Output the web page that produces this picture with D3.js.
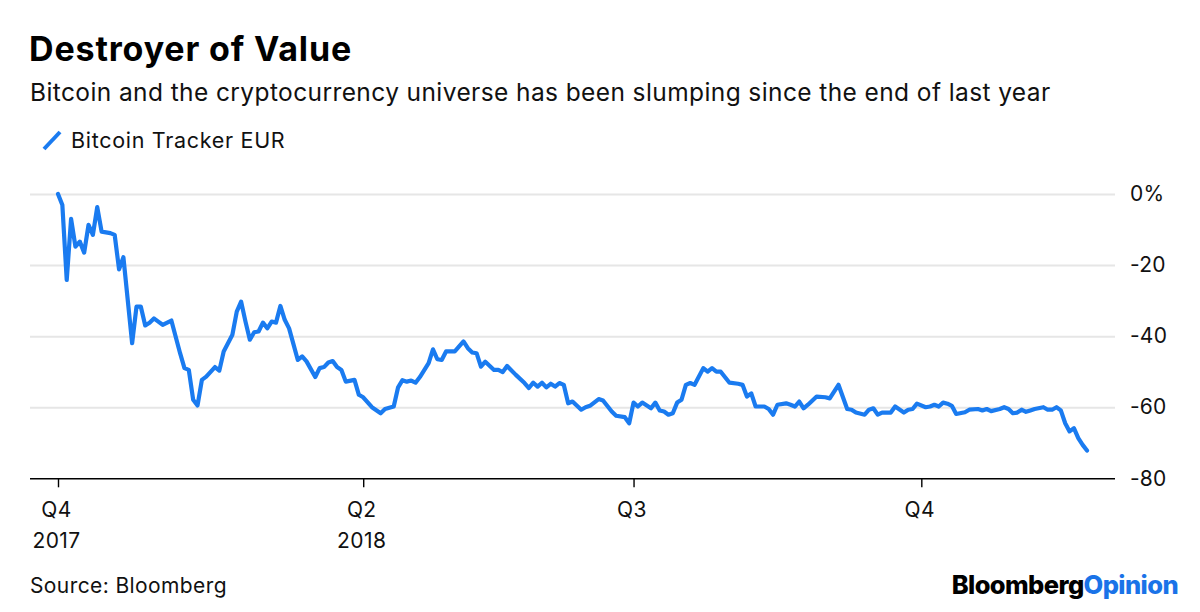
<!DOCTYPE html>
<html>
<head>
<meta charset="utf-8">
<script src="https://cdn.jsdelivr.net/npm/d3@7"></script>
<style>
  html, body { margin: 0; padding: 0; background: #fff; }
  svg { display: block; font-family: Inter, "Liberation Sans", Arial, sans-serif; }
</style>
</head>
<body>
<svg id="chart" width="1200" height="612"></svg>
<script>
// ---- data (trading-day index since the Dec-2017 start, % change) ----
const days = [0,1,2,3,4,5,6,7,8,9,10,12,13,14,15,17,18,19,20,21,22,23,24,26,28,29,30,31,32,33,34,36,37,38,40,41,42,43,44,45,46,47,48,49,50,51,52,53,55,56,57,59,60,61,62,63,64,65,66,68,69,70,72,74,75,77,78,79,80,81,82,83,85,86,87,88,89,90,91,93,94,95,96,97,98,100,101,102,103,105,107,108,109,110,111,112,113,114,115,116,117,118,120,121,122,124,125,127,128,130,131,132,133,134,136,137,138,139,140,141,142,143,144,145,146,148,149,150,151,152,154,156,157,158,159,160,162,163,164,165,167,168,169,170,171,172,174,176,177,178,179,181,182,183,185,186,187,188,189,191,192,194,195,196,197,199,200,201,202,203,204,205,206,208,209,211,212,213,214,216,217,218,219,220,221,222,223,224,226,227,228,229,230,231,232,233,234,235,236];
const values = [0,-3.1,-24.2,-7,-14.8,-13.4,-16.5,-8.7,-11.5,-3.7,-10.6,-11,-11.5,-21.2,-17.8,-42,-31.7,-31.7,-37,-36.2,-35,-35.9,-36.8,-35.6,-44.8,-49,-49.5,-57.9,-59.5,-52.3,-51.4,-48.7,-49.7,-44.3,-39.6,-33.1,-30.3,-35.9,-41,-38.9,-38.7,-36.2,-37.8,-35.9,-36.2,-31.5,-35.4,-37.8,-46.7,-45.7,-47.1,-51.5,-49,-48.7,-47.4,-47,-48.7,-49.5,-52.8,-52.3,-56.5,-57.2,-60,-61.7,-60.5,-59.8,-54.4,-52.4,-52.8,-52.5,-53.1,-51.5,-47.6,-43.7,-46.5,-46.7,-44.3,-44.3,-44.3,-41.5,-43.4,-44.6,-44.8,-48.6,-47.2,-49.5,-49.5,-50.1,-48.4,-50.9,-53.2,-54.6,-53.1,-54.2,-53.1,-54.4,-53.4,-54.2,-53.2,-53.7,-58.9,-58.4,-60.7,-60,-59.6,-57.7,-58.1,-61.2,-62.4,-62.8,-64.5,-58.7,-59.8,-58.7,-60.3,-58.7,-60.9,-61.2,-62.1,-61.7,-58.7,-57.9,-53.7,-53.2,-53.7,-49,-50,-49,-50,-50,-53.1,-53.4,-53.7,-57,-56.1,-59.8,-59.8,-60.5,-62.1,-59.3,-58.9,-59.3,-59.8,-58.4,-60.3,-59.3,-57,-57.2,-57.5,-55.6,-53.7,-60.5,-60.7,-61.5,-62.1,-60.7,-60.3,-62.1,-61.5,-61.5,-59.8,-61.5,-60.7,-60.5,-59,-60,-59.8,-59.3,-59.8,-58.7,-59,-59.6,-61.9,-61.4,-60.7,-60.5,-60.9,-60.5,-61.1,-60.5,-60,-60.5,-61.7,-61.5,-60.7,-61.3,-60.9,-60.5,-60,-60.7,-60.7,-60,-60.9,-64.5,-66.8,-65.9,-68.7,-70.6,-72.2];
const xTickDays = [0, 70, 132, 198];
const xTickQuarters = ["Q4", "Q2", "Q3", "Q4"];
const xTickYears = ["2017", "2018", "", ""];
const yTicks = [0, -20, -40, -60, -80];
const seriesName = "Bitcoin Tracker EUR";

// ---- layout ----
const BLUE = "#1a7bf0";
const FONT = "Inter, 'Liberation Sans', Arial, sans-serif";
const svg = d3.select("#chart");
const plotLeft = 30, plotRight = 1115;
const x = d3.scaleLinear().domain([0, 236]).range([58, 1087]);
const y = d3.scaleLinear().domain([-80, 0]).range([478.3, 194]);

// titles
svg.append("text").attr("x", 29).attr("y", 61)
  .attr("font-size", 34).attr("font-weight", "bold").attr("fill", "#000")
  .attr("letter-spacing", 0.85)
  .text("Destroyer of Value");
svg.append("text").attr("x", 30).attr("y", 101)
  .attr("font-size", 24.5).attr("fill", "#111").attr("letter-spacing", 0.4)
  .text("Bitcoin and the cryptocurrency universe has been slumping since the end of last year");

// legend
svg.append("line").attr("x1", 44).attr("y1", 149).attr("x2", 60).attr("y2", 132)
  .attr("stroke", BLUE).attr("stroke-width", 4).attr("stroke-linecap", "butt");
svg.append("text").attr("x", 71).attr("y", 148)
  .attr("font-size", 21.5).attr("fill", "#111").attr("letter-spacing", 0.7).text(seriesName);

// y axis with gridlines
const yAxis = d3.axisRight(y).tickValues(yTicks)
  .tickSize(-(plotRight - plotLeft)).tickPadding(15)
  .tickFormat(d => d === 0 ? "0%" : String(d));
const gy = svg.append("g").attr("transform", `translate(${plotRight},0)`).call(yAxis);
gy.select(".domain").remove();
gy.selectAll(".tick line").attr("stroke", "#e6e6e6").attr("stroke-width", 2);
gy.selectAll(".tick text").attr("font-size", 21).attr("fill", "#111")
  .attr("letter-spacing", 0.2).attr("font-family", FONT);
gy.selectAll(".tick").filter(d => d === -80).select("line")
  .attr("stroke", "#000").attr("stroke-width", 1.6);

// x axis
const xAxis = d3.axisBottom(x).tickValues(xTickDays).tickSize(9).tickFormat("");
const gx = svg.append("g").attr("transform", `translate(0,${y(-80)})`).call(xAxis);
gx.select(".domain").remove();
gx.selectAll(".tick line").attr("stroke", "#000").attr("stroke-width", 1.4);
const lbl = gx.selectAll(".tick").append("text")
  .attr("text-anchor", "middle").attr("fill", "#111").attr("font-size", 21)
  .attr("letter-spacing", 0.4).attr("font-family", FONT);
lbl.append("tspan").attr("x", -2).attr("y", 39).text((d, i) => xTickQuarters[i]);
lbl.append("tspan").attr("x", -2).attr("y", 70).text((d, i) => xTickYears[i]);

// line
const line = d3.line().x((d, i) => x(days[i])).y(d => y(d)).curve(d3.curveLinear);
svg.append("path").datum(values)
  .attr("d", line).attr("fill", "none").attr("stroke", BLUE)
  .attr("stroke-width", 4.2).attr("stroke-linejoin", "round").attr("stroke-linecap", "round");

// footer
svg.append("text").attr("x", 30).attr("y", 593)
  .attr("font-size", 21).attr("fill", "#111").attr("letter-spacing", 0.4).text("Source: Bloomberg");
const logo = svg.append("text").attr("x", 1178).attr("y", 594)
  .attr("text-anchor", "end").attr("font-size", 25.5).attr("font-weight", 800)
  .attr("letter-spacing", -0.6);
logo.append("tspan").attr("fill", "#000").text("Bloomberg");
logo.append("tspan").attr("fill", "#1a73e8").text("Opinion");
</script>
</body>
</html>
